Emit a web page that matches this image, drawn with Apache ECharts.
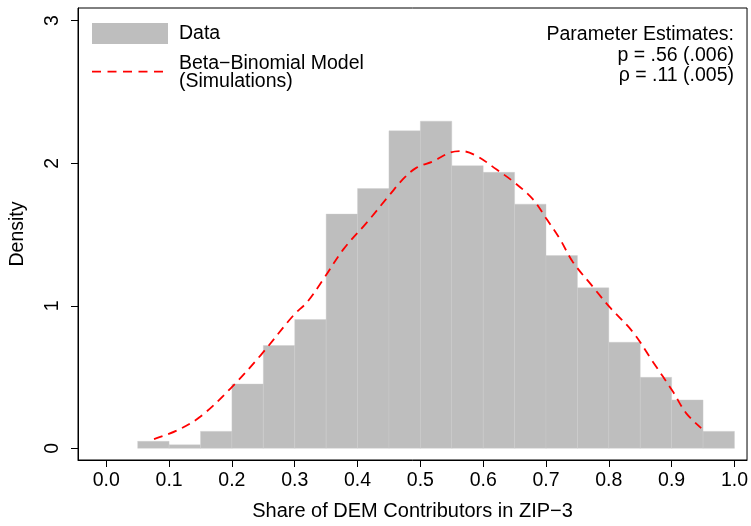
<!DOCTYPE html>
<html>
<head>
<meta charset="utf-8">
<script src="https://cdn.jsdelivr.net/npm/echarts@6/dist/echarts.min.js"></script>
<style>html,body{margin:0;padding:0;background:#fff}#c{width:751px;height:526px}</style>
</head>
<body>
<div id="c"></div>
<script>
var binWidth = 0.05;
var binStarts = [0.05,0.10,0.15,0.20,0.25,0.30,0.35,0.40,0.45,0.50,0.55,0.60,0.65,0.70,0.75,0.80,0.85,0.90,0.95];
var densities = [0.049,0.025,0.119,0.451,0.721,0.903,1.643,1.822,2.228,2.295,1.983,1.936,1.713,1.352,1.126,0.744,0.498,0.339,0.119];
var curveX = [0.076,0.113,0.150,0.198,0.246,0.298,0.320,0.346,0.378,0.415,0.452,0.475,0.494,0.521,0.547,0.566,0.590,0.621,0.650,0.679,0.701,0.722,0.743,0.775,0.801,0.838,0.870,0.902,0.923,0.947];
var curveY = [0.065,0.126,0.223,0.421,0.654,0.933,1.027,1.189,1.399,1.585,1.783,1.900,1.969,2.015,2.074,2.085,2.050,1.957,1.864,1.748,1.608,1.469,1.306,1.131,0.992,0.817,0.608,0.398,0.247,0.142];
var xTickValues = [0,0.1,0.2,0.3,0.4,0.5,0.6,0.7,0.8,0.9,1.0];
var xTickLabels = ['0.0','0.1','0.2','0.3','0.4','0.5','0.6','0.7','0.8','0.9','1.0'];
var yTickValues = [0,1,2,3];
var yTickLabels = ['0','1','2','3'];
var legendLabels = ['Data', 'Beta\u2212Binomial Model', '(Simulations)'];
var paramLines = ['Parameter Estimates:', 'p = .56 (.006)', '\u03c1 = .11 (.005)'];
var xTitle = 'Share of DEM Contributors in ZIP\u22123';
var yTitle = 'Density';

var FONT = 'Liberation Sans, Arial, Helvetica, sans-serif';
var FS = 19.5;

var barData = binStarts.map(function (s, i) { return [s, s + binWidth, densities[i]]; });
var lineData = curveX.map(function (x, i) { return [x, curveY[i]]; });

var chart = echarts.init(document.getElementById('c'), null, {renderer: 'canvas'});
chart.setOption({
  animation: false,
  backgroundColor: '#fff',
  grid: {left: 77, right: 3, top: 8, bottom: 64, show: true, borderColor: '#000', borderWidth: 1, backgroundColor: 'transparent'},
  xAxis: {
    type: 'value', min: -0.045, max: 1.02,
    name: xTitle, nameLocation: 'middle', nameGap: 41,
    nameTextStyle: {fontFamily: FONT, fontSize: 20, color: '#000'},
    axisLine: {show: true, onZero: false, lineStyle: {color: '#000', width: 1}},
    axisTick: {show: true, length: 7, lineStyle: {color: '#000', width: 1}, customValues: xTickValues},
    axisLabel: {fontFamily: FONT, fontSize: FS, color: '#000', margin: 11, customValues: xTickValues,
      formatter: function (v) { var i = xTickValues.indexOf(v); return i >= 0 ? xTickLabels[i] : ''; }},
    splitLine: {show: false}
  },
  yAxis: {
    type: 'value', min: -0.082, max: 3.089,
    name: yTitle, nameLocation: 'middle', nameGap: 50, nameRotate: 90,
    nameTextStyle: {fontFamily: FONT, fontSize: FS, color: '#000'},
    axisLine: {show: true, onZero: false, lineStyle: {color: '#000', width: 1}},
    axisTick: {show: true, length: 7, lineStyle: {color: '#000', width: 1}, customValues: yTickValues},
    axisLabel: {fontFamily: FONT, fontSize: FS, color: '#000', margin: 15, rotate: 90, customValues: yTickValues,
      formatter: function (v) { var i = yTickValues.indexOf(v); return i >= 0 ? yTickLabels[i] : ''; }},
    splitLine: {show: false}
  },
  series: [
    {
      type: 'custom',
      name: 'Data',
      data: barData,
      renderItem: function (params, api) {
        var p0 = api.coord([api.value(0), 0]);
        var p1 = api.coord([api.value(1), api.value(2)]);
        return {
          type: 'rect',
          shape: {x: p0[0], y: p1[1], width: p1[0] - p0[0], height: p0[1] - p1[1]},
          style: {fill: '#bebebe', stroke: '#cdcdcd', lineWidth: 0.4}
        };
      },
      z: 1
    },
    {
      type: 'line',
      name: 'Beta-Binomial Model',
      data: lineData,
      smooth: 0.35,
      showSymbol: false,
      symbol: 'none',
      lineStyle: {color: '#ff0000', width: 1.8, type: [9, 6]},
      z: 3
    }
  ],
  graphic: [
    {type: 'rect', shape: {x: 92, y: 23, width: 76, height: 21}, style: {fill: '#bebebe'}},
    {type: 'line', shape: {x1: 92, y1: 71.7, x2: 168, y2: 71.7}, style: {stroke: '#ff0000', lineWidth: 1.8, lineDash: [9, 6.5]}},
    {type: 'text', x: 179, y: 34, style: {text: legendLabels[0], font: FS + 'px ' + FONT, fill: '#000', verticalAlign: 'middle', align: 'left'}},
    {type: 'text', x: 179, y: 63.3, style: {text: legendLabels[1], font: FS + 'px ' + FONT, fill: '#000', verticalAlign: 'middle', align: 'left'}},
    {type: 'text', x: 179, y: 81.7, style: {text: legendLabels[2], font: FS + 'px ' + FONT, fill: '#000', verticalAlign: 'middle', align: 'left'}},
    {type: 'text', x: 734, y: 35, style: {text: paramLines[0], font: FS + 'px ' + FONT, fill: '#000', verticalAlign: 'middle', align: 'right'}},
    {type: 'text', x: 734, y: 56, style: {text: paramLines[1], font: FS + 'px ' + FONT, fill: '#000', verticalAlign: 'middle', align: 'right'}},
    {type: 'text', x: 734, y: 76, style: {text: paramLines[2], font: FS + 'px ' + FONT, fill: '#000', verticalAlign: 'middle', align: 'right'}}
  ]
});
</script>
</body>
</html>
